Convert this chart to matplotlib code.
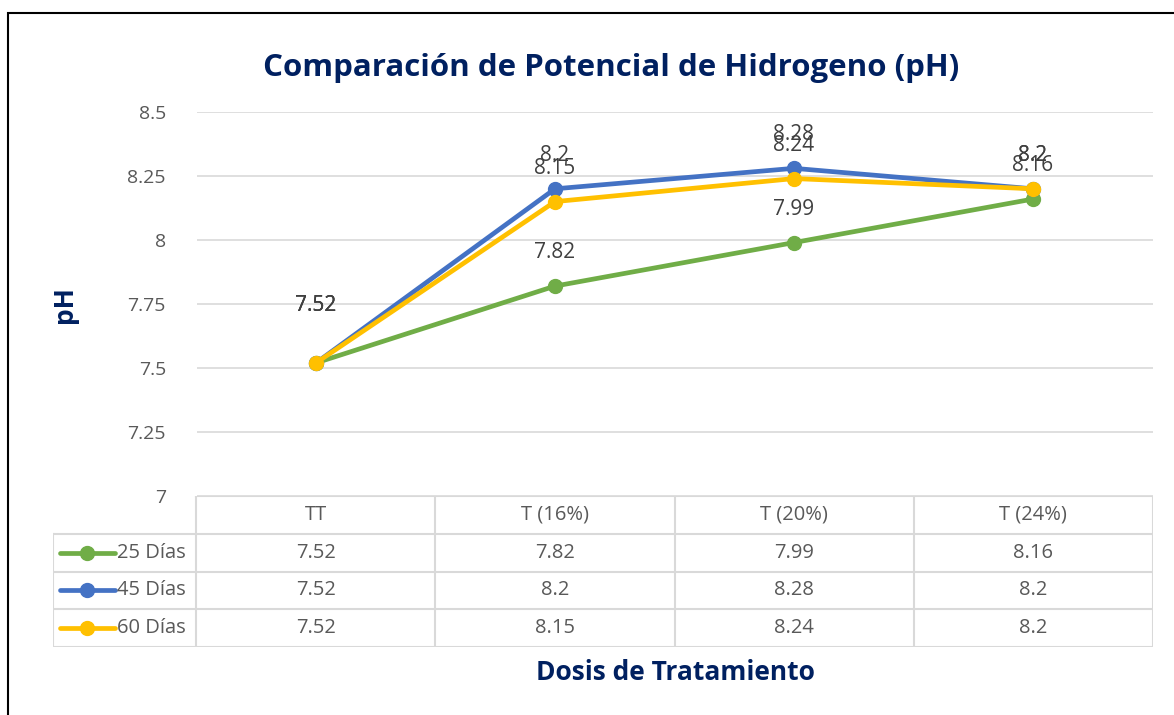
import matplotlib.pyplot as plt
from matplotlib.patches import Rectangle

# categories and series
categories = ["TT", "T (16%)", "T (20%)", "T (24%)"]
series_names = ["25 Días", "45 Días", "60 Días"]
ph_25 = [7.52, 7.82, 7.99, 8.16]
ph_45 = [7.52, 8.2, 8.28, 8.2]
ph_60 = [7.52, 8.15, 8.24, 8.2]
y_ticks = [7, 7.25, 7.5, 7.75, 8, 8.25, 8.5]
y_tick_labels = ["7", "7.25", "7.5", "7.75", "8", "8.25", "8.5"]

colors = ["#70AD47", "#4472C4", "#FFC000"]
navy = "#002060"
gray_txt = "#595959"
grid_col = "#D9D9D9"
plt.rcParams['font.family'] = ['Open Sans', 'DejaVu Sans']

W, H = 1174, 715
fig = plt.figure(figsize=(W / 100, H / 100), dpi=100)

# pixel layout of the plot area (from the reference)
px_left, px_right = 196.5, 1152.5
px_top, px_bottom = 112, 496
px_table_bottom = 647
px_legend_left = 53

ax = fig.add_axes([px_left / W, 1 - px_bottom / H,
                   (px_right - px_left) / W, (px_bottom - px_top) / H])
x = list(range(len(categories)))
all_series = [ph_25, ph_45, ph_60]
for vals, c in zip(all_series, colors):
    ax.plot(x, vals, color=c, lw=3.4, marker="o", ms=10, solid_capstyle="round", zorder=3)

# data labels (Excel shifts the overlapping first ones further up)
label_off = [41, 24, 24, 24]
for vals in all_series:
    for xi, v in zip(x, vals):
        ax.annotate(f"{v:g}", (xi, v), xytext=(0, label_off[xi]), textcoords="offset points",
                    ha="center", va="center", fontsize=15, color="#404040", zorder=4)

ax.set_xlim(-0.5, len(categories) - 0.5)
ax.set_ylim(7, 8.5)
ax.set_yticks(y_ticks)
ax.set_yticklabels(y_tick_labels, fontsize=14, color=gray_txt)
ax.set_xticks([])
ax.tick_params(axis="y", length=0, pad=22)
ax.grid(axis="y", color=grid_col, lw=1.2)
ax.set_axisbelow(True)
for s in ax.spines.values():
    s.set_visible(False)

# data table under the plot
units_per_px = len(categories) / (px_right - px_left)
legend_x0 = -0.5 - (px_left - px_legend_left) * units_per_px
tab = fig.add_axes([px_legend_left / W, 1 - px_table_bottom / H,
                    (px_right - px_legend_left) / W, (px_table_bottom - px_bottom) / H])
nrows = len(series_names) + 1
tab.set_xlim(legend_x0, len(categories) - 0.5)
tab.set_ylim(nrows, 0)
tab.axis("off")

lc = dict(color=grid_col, lw=1.5)
tab.plot([-0.5, len(categories) - 0.5], [0, 0], **lc)
for r in range(1, nrows + 1):
    tab.plot([legend_x0, len(categories) - 0.5], [r, r], **lc)
for k in range(len(categories) + 1):
    tab.plot([k - 0.5, k - 0.5], [0, nrows], **lc)
tab.plot([legend_x0, legend_x0], [1, nrows], **lc)

for k, cat in enumerate(categories):
    tab.text(k, 0.5, cat, ha="center", va="center", fontsize=14.5, color=gray_txt)
for r, (name, vals, c) in enumerate(zip(series_names, all_series, colors), start=1):
    for k, v in enumerate(vals):
        tab.text(k, r + 0.5, f"{v:g}", ha="center", va="center", fontsize=14.5, color=gray_txt)
    kx0 = legend_x0 + 7 * units_per_px
    kx1 = legend_x0 + 62 * units_per_px
    tab.plot([kx0, kx1], [r + 0.5, r + 0.5], color=c, lw=3.4, solid_capstyle="round")
    tab.plot([(kx0 + kx1) / 2], [r + 0.5], "o", color=c, ms=10)
    tab.text(legend_x0 + 64 * units_per_px, r + 0.5, name, ha="left", va="center",
             fontsize=14.5, color=gray_txt)

# titles
fig.text(611 / W, 1 - 68 / H, "Comparación de Potencial de Hidrogeno (pH)",
         ha="center", va="center", fontsize=22.5, fontweight="bold", color=navy)
fig.text(65 / W, 1 - 305 / H, "pH", ha="center", va="center", rotation=90,
         fontsize=19, fontweight="bold", color=navy)
fig.text(675 / W, 1 - 673 / H, "Dosis de Tratamiento", ha="center", va="center",
         fontsize=19, fontweight="bold", color=navy)

# outer frame of the chart object
fig.patches.append(Rectangle((8 / W, -0.1), 1.2, 1 - 13 / H + 0.1, transform=fig.transFigure,
                             fill=False, edgecolor="black", lw=1.5))

fig.savefig("out.png", dpi=100)
